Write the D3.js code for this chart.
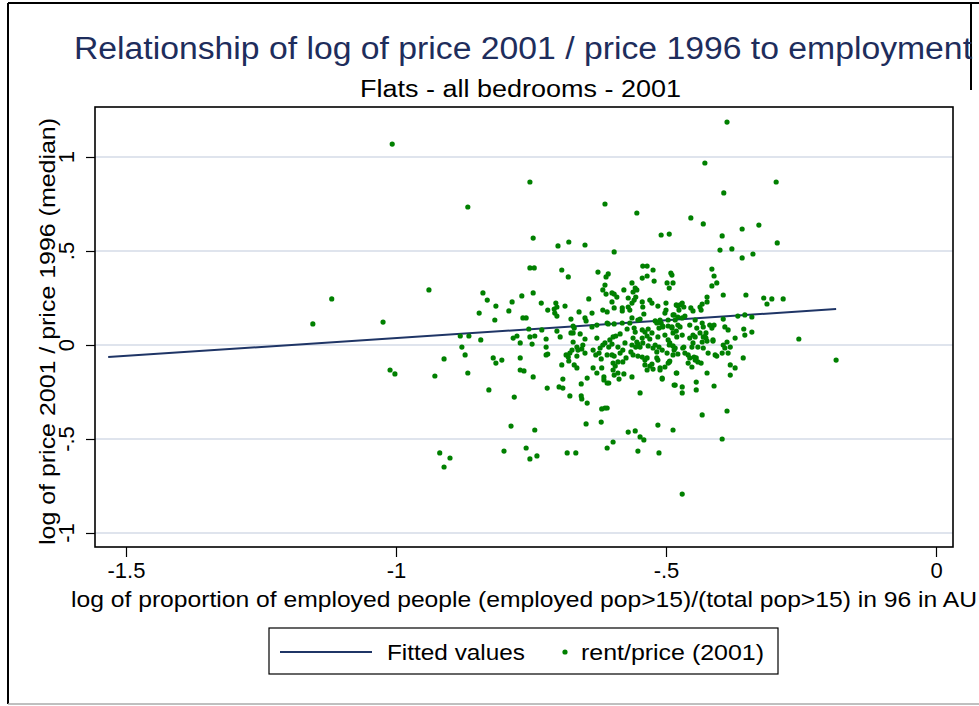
<!DOCTYPE html>
<html>
<head>
<meta charset="utf-8">
<script src="https://cdn.jsdelivr.net/npm/d3@7/dist/d3.min.js"></script>
<style>
  body { margin: 0; background: #fff; }
  svg { display: block; font-family: "Liberation Sans", Arial, sans-serif; }
</style>
</head>
<body>
<svg width="979" height="706"></svg>
<script>
// values
var titleText = "Relationship of log of price 2001 / price 1996 to employment";
var subtitleText = "Flats - all bedrooms - 2001";
var xTitle = "log of proportion of employed people (employed pop>15)/(total pop>15) in 96 in AU";
var yTitle = "log of price 2001 / price 1996 (median)";
var legendLabels = ["Fitted values", "rent/price (2001)"];

var xTickVals = [-1.5, -1, -0.5, 0];
var xTickLabels = ["-1.5", "-1", "-.5", "0"];
var yTickVals = [-1, -0.5, 0, 0.5, 1];
var yTickLabels = ["-1", "-.5", "0", ".5", "1"];

// fitted line end points
var fitX = [-1.533, -0.185];
var fitY = [-0.064, 0.191];

// scatter: log employment proportion (x) and log price ratio (y)
var empX = [
-1.154,-1.119,-1.024,-1.007,-1.011,-1.002,-0.939,-0.928,-0.919,-0.911,-0.900,-0.911,-0.881,-0.865,-0.878,-0.872,-0.867,-0.867,-0.843,-0.846,
-0.839,-0.831,-0.828,-0.820,-0.817,-0.815,-0.815,-0.804,-0.800,-0.791,-0.787,-0.785,-0.783,-0.781,-0.776,-0.770,-0.770,-0.770,-0.767,-0.765,
-0.759,-0.763,-0.759,-0.754,-0.752,-0.752,-0.744,-0.752,-0.752,-0.748,-0.746,-0.746,-0.746,-0.743,-0.743,-0.739,-0.731,-0.730,-0.722,-0.722,
-0.722,-0.719,-0.720,-0.719,
-0.700,-0.680,-0.650,-0.693,-0.681,-0.626,-0.611,-0.607,-0.613,-0.554,-0.596,-0.707,-0.704,-0.702,-0.706,-0.702,-0.687,-0.643,-0.617,-0.611,
-0.617,-0.609,-0.661,-0.637,-0.650,-0.648,-0.676,-0.607,-0.628,-0.637,-0.672,-0.670,-0.702,-0.696,-0.676,-0.672,-0.659,-0.650,-0.628,-0.672,
-0.674,-0.678,-0.685,-0.665,-0.663,-0.656,-0.650,-0.654,-0.635,-0.630,-0.622,-0.617,-0.613,-0.681,-0.665,-0.620,-0.624,-0.609,-0.693,-0.680,
-0.670,-0.665,-0.635,-0.628,-0.615,-0.615,-0.609,-0.646,-0.657,-0.691,-0.698,-0.691,-0.678,-0.657,-0.656,-0.646,-0.619,-0.613,-0.620,-0.648,
-0.683,-0.667,
-0.543,-0.535,-0.524,-0.544,-0.535,-0.522,-0.491,-0.489,-0.498,-0.487,-0.494,-0.613,-0.563,-0.557,-0.554,-0.561,-0.578,-0.600,-0.596,-0.591,
-0.570,-0.563,-0.559,-0.556,-0.581,-0.581,-0.600,-0.596,-0.570,-0.567,-0.544,-0.543,-0.541,-0.530,-0.526,-0.515,-0.500,-0.500,-0.502,-0.487,
-0.481,-0.478,-0.609,-0.596,-0.581,-0.563,-0.552,-0.548,-0.567,-0.572,-0.557,-0.559,-0.544,-0.539,-0.533,-0.526,-0.520,-0.517,-0.511,-0.509,
-0.506,-0.496,-0.496,-0.489,-0.487,-0.513,-0.502,-0.483,-0.478,-0.598,-0.604,-0.585,-0.600,-0.589,-0.606,-0.576,-0.580,-0.563,-0.556,-0.552,
-0.548,-0.543,-0.533,-0.524,-0.520,-0.513,-0.507,-0.561,-0.554,-0.544,-0.530,-0.515,-0.496,-0.493,-0.487,-0.483,-0.600,-0.596,-0.585,-0.565,
-0.561,-0.552,-0.544,-0.535,-0.517,-0.515,-0.498,-0.487,-0.598,-0.594,-0.589,-0.580,-0.598,-0.589,-0.587,-0.606,-0.563,-0.539,-0.539,-0.530,
-0.526,-0.535,-0.524,-0.511,-0.502,-0.507,-0.494,-0.481,-0.485,-0.548,-0.609,-0.515,-0.487,-0.570,-0.557,-0.548,-0.541,-0.598,-0.609,-0.552,
-0.513,-0.509,-0.494,-0.574,-0.517,-0.593,-0.535,-0.619,-0.596,-0.578,
-0.400,-0.378,-0.359,-0.339,-0.415,-0.411,-0.406,-0.415,-0.394,-0.352,-0.424,-0.424,-0.433,-0.437,-0.435,-0.470,-0.467,-0.454,-0.450,-0.474,
-0.476,-0.446,-0.478,-0.470,-0.465,-0.394,-0.367,-0.354,-0.341,-0.433,-0.431,-0.419,-0.411,-0.391,-0.385,-0.356,-0.354,-0.341,-0.474,-0.456,
-0.443,-0.480,-0.470,-0.456,-0.446,-0.437,-0.426,-0.426,-0.415,-0.413,-0.450,-0.469,-0.452,-0.433,-0.422,-0.409,-0.396,-0.394,-0.387,-0.381,
-0.372,-0.391,-0.385,-0.465,-0.459,-0.456,-0.448,-0.446,-0.441,-0.459,-0.452,-0.357,-0.381,-0.372,-0.381,-0.424,-0.480,-0.483,-0.470,-0.470,
-0.444,-0.444,-0.411,-0.387,-0.433,-0.387,-0.428,-0.296,-0.393,-0.454,-0.431,-0.359,-0.328,-0.396,-0.294,-0.319,-0.313,-0.304,-0.283,-0.254,
-0.185,-0.396,-0.470,-0.413,-0.406,-0.507,-0.511,-0.496,-0.493,-0.435,-0.444,-0.485,-0.478,-0.494,-0.428,-0.424,-0.441,-0.467,-0.431,-0.485,
-0.506,-0.489,-0.481,-0.450,-0.431
];
var priceRatio = [
0.112,0.245,0.122,1.069,-0.133,-0.154,0.293,-0.165,-0.574,-0.649,-0.601,-0.074,0.048,0.048,-0.011,-0.053,0.734,-0.149,0.027,0.170,
0.277,0.239,-0.239,-0.069,0.133,0.207,-0.096,-0.080,-0.564,0.181,-0.431,0.229,0.037,-0.277,0.048,0.011,-0.069,-0.133,0.261,0.144,
0.144,-0.138,-0.548,0.085,0.867,0.410,0.410,0.043,-0.606,0.005,0.569,0.277,-0.170,0.048,-0.452,-0.590,0.223,0.080,0.032,-0.011,
-0.053,-0.048,-0.229,0.186,
0.527,0.548,0.532,0.399,0.362,0.388,0.362,0.378,0.750,0.702,0.495,0.191,0.223,0.202,0.170,0.154,0.207,0.245,0.293,0.271,
0.186,0.176,0.176,0.170,0.144,0.128,0.138,0.112,0.106,0.096,0.101,0.090,0.074,0.043,0.064,0.064,0.059,0.032,0.037,0.016,
-0.027,-0.043,-0.053,-0.011,-0.027,-0.021,-0.043,0.000,-0.027,-0.053,-0.016,0.000,0.011,-0.064,-0.059,-0.074,-0.043,-0.053,-0.106,-0.085,
-0.106,-0.122,-0.122,-0.149,-0.170,-0.186,-0.202,-0.176,-0.207,-0.181,-0.223,-0.229,-0.271,-0.271,-0.287,-0.309,-0.340,-0.335,-0.410,-0.420,
-0.574,-0.574,
0.420,0.420,0.399,0.356,0.367,0.340,0.383,0.372,0.330,0.330,0.303,0.319,0.330,0.303,0.293,0.282,0.293,0.277,0.271,0.255,
0.250,0.223,0.239,0.255,0.197,0.181,0.229,0.197,0.202,0.186,0.229,0.202,0.165,0.239,0.223,0.207,0.223,0.186,0.170,0.160,
0.213,0.207,0.117,0.112,0.117,0.144,0.133,0.138,0.117,0.085,0.069,0.090,0.080,0.069,0.085,0.064,0.128,0.117,0.133,0.117,
0.101,0.133,0.101,0.090,0.064,0.090,0.053,0.133,0.106,0.043,0.027,0.059,0.005,-0.011,-0.011,0.011,-0.027,0.000,-0.011,0.005,
-0.011,0.011,-0.005,-0.016,0.000,-0.011,-0.027,0.037,0.016,0.037,0.032,0.043,0.027,0.011,-0.005,-0.016,-0.053,-0.059,-0.043,-0.037,
-0.053,-0.059,-0.064,-0.069,-0.069,-0.080,-0.043,-0.053,-0.096,-0.112,-0.090,-0.090,-0.133,-0.149,-0.181,-0.202,-0.170,-0.080,-0.106,-0.112,
-0.101,-0.133,-0.128,-0.122,-0.117,-0.176,-0.090,-0.149,-0.213,-0.255,-0.335,-0.426,-0.452,-0.463,-0.457,-0.489,-0.505,-0.516,-0.548,-0.564,
-0.574,0.585,0.590,-0.069,-0.037,0.048,0.048,-0.122,-0.160,-0.154,
0.505,0.511,0.463,0.484,0.404,0.367,0.330,0.314,0.266,0.266,0.255,0.229,0.218,0.202,0.186,0.223,0.202,0.197,0.181,0.213,
0.186,0.133,0.149,0.144,0.154,0.138,0.154,0.160,0.149,0.117,0.096,0.106,0.106,0.096,0.080,0.085,0.053,0.069,0.096,0.106,
0.090,0.043,0.053,0.037,0.043,0.064,0.064,0.037,0.090,0.027,0.011,-0.016,-0.011,0.016,-0.043,-0.053,-0.043,0.000,0.016,-0.011,
0.037,-0.016,-0.043,-0.043,-0.053,-0.069,-0.064,-0.080,-0.090,-0.096,-0.117,-0.069,-0.106,-0.122,-0.160,-0.149,-0.149,-0.213,-0.223,-0.255,
-0.197,-0.239,-0.218,-0.351,-0.372,1.186,0.968,0.867,0.809,0.676,0.644,0.617,0.638,0.580,0.543,0.250,0.218,0.245,0.245,0.032,
-0.080,-0.500,-0.793,0.021,-0.059,-0.181,-0.133,-0.096,-0.085,-0.096,-0.069,-0.027,-0.048,0.000,0.043,0.021,-0.011,-0.011,-0.016,0.160,
0.096,0.096,0.074,0.053,0.043
];

var svg = d3.select("svg");

// outer frame of the graph window
svg.append("line").attr("x1", 8).attr("y1", 3).attr("x2", 8).attr("y2", 704)
    .attr("stroke", "#000").attr("stroke-width", 2);
svg.append("line").attr("x1", 8).attr("y1", 3).attr("x2", 979).attr("y2", 3)
    .attr("stroke", "#000").attr("stroke-width", 2);
svg.append("line").attr("x1", 8).attr("y1", 704).attr("x2", 979).attr("y2", 704)
    .attr("stroke", "#aaa").attr("stroke-width", 1.5);
svg.append("line").attr("x1", 971).attr("y1", 3).attr("x2", 971).attr("y2", 90)
    .attr("stroke", "#000").attr("stroke-width", 2);

// plot box
var box = {left: 95, right: 953, top: 107, bottom: 547};

var xScale = d3.scaleLinear().domain([-1.5, 0]).range([126, 936]);
var yScale = d3.scaleLinear().domain([-1, 1]).range([533, 157]);

// grid lines
svg.append("g").selectAll("line")
    .data(yTickVals)
    .enter().append("line")
    .attr("x1", box.left).attr("x2", box.right)
    .attr("y1", function(d) { return yScale(d); })
    .attr("y2", function(d) { return yScale(d); })
    .attr("stroke", "#dfe4ed").attr("stroke-width", 2);

// x axis
var xAxis = svg.append("g")
    .attr("transform", "translate(0," + box.bottom + ")")
    .call(d3.axisBottom(xScale).tickValues(xTickVals).tickSize(10).tickPadding(5)
        .tickFormat(function(d, i) { return xTickLabels[i]; }));
xAxis.select(".domain").remove();
xAxis.selectAll("line").attr("stroke", "#000").attr("stroke-width", 1.2);
xAxis.selectAll("text").attr("font-size", 22).attr("fill", "#000")
    .attr("font-family", "Liberation Sans, Arial, sans-serif");

// y axis with rotated labels
var yAxis = svg.append("g")
    .attr("transform", "translate(" + box.left + ",0)")
    .call(d3.axisLeft(yScale).tickValues(yTickVals).tickSize(9).tickFormat(""));
yAxis.select(".domain").remove();
yAxis.selectAll("line").attr("stroke", "#000").attr("stroke-width", 1.2);

svg.append("g").selectAll("text")
    .data(yTickVals)
    .enter().append("text")
    .attr("transform", function(d) { return "translate(74," + yScale(d) + ") rotate(-90)"; })
    .attr("text-anchor", "middle")
    .attr("font-size", 22)
    .text(function(d, i) { return yTickLabels[i]; });

svg.append("rect")
    .attr("x", box.left).attr("y", box.top)
    .attr("width", box.right - box.left).attr("height", box.bottom - box.top)
    .attr("fill", "none").attr("stroke", "#000").attr("stroke-width", 1.6);

// fitted line
var fit = fitX.map(function(d, i) { return [d, fitY[i]]; });
svg.append("path")
    .datum(fit)
    .attr("d", d3.line().x(function(d) { return xScale(d[0]); }).y(function(d) { return yScale(d[1]); }))
    .attr("stroke", "#1f3566").attr("stroke-width", 2).attr("fill", "none");

// scatter points
svg.append("g").selectAll("circle")
    .data(empX)
    .enter().append("circle")
    .attr("cx", function(d) { return xScale(d); })
    .attr("cy", function(d, i) { return yScale(priceRatio[i]); })
    .attr("r", 2.6)
    .attr("fill", "#008000");

// titles
svg.append("text")
    .attr("x", 74).attr("y", 59)
    .attr("font-size", 31).attr("fill", "#1e2d5c")
    .attr("textLength", 898).attr("lengthAdjust", "spacingAndGlyphs")
    .text(titleText);

svg.append("text")
    .attr("x", 360).attr("y", 97)
    .attr("font-size", 23)
    .attr("textLength", 321).attr("lengthAdjust", "spacingAndGlyphs")
    .text(subtitleText);

svg.append("text")
    .attr("x", 71).attr("y", 607)
    .attr("font-size", 22)
    .attr("textLength", 906).attr("lengthAdjust", "spacingAndGlyphs")
    .text(xTitle);

svg.append("text")
    .attr("transform", "translate(55,545) rotate(-90)")
    .attr("font-size", 22)
    .attr("textLength", 427).attr("lengthAdjust", "spacingAndGlyphs")
    .text(yTitle);

// legend
var legend = svg.append("g");
legend.append("rect")
    .attr("x", 269).attr("y", 628).attr("width", 509).attr("height", 46)
    .attr("fill", "#fff").attr("stroke", "#000").attr("stroke-width", 1.2);
legend.append("line")
    .attr("x1", 280).attr("x2", 372).attr("y1", 652).attr("y2", 652)
    .attr("stroke", "#1f3566").attr("stroke-width", 2);
legend.append("text")
    .attr("x", 387).attr("y", 660).attr("font-size", 22)
    .attr("textLength", 138).attr("lengthAdjust", "spacingAndGlyphs")
    .text(legendLabels[0]);
legend.append("circle")
    .attr("cx", 565).attr("cy", 652).attr("r", 2.6).attr("fill", "#008000");
legend.append("text")
    .attr("x", 581).attr("y", 660).attr("font-size", 22)
    .attr("textLength", 183).attr("lengthAdjust", "spacingAndGlyphs")
    .text(legendLabels[1]);
</script>
</body>
</html>
